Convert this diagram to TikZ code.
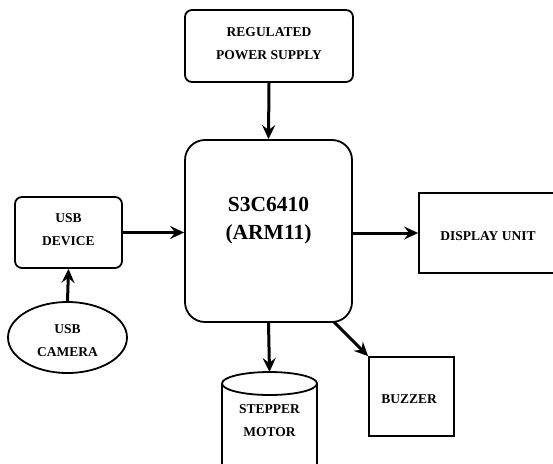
\documentclass[tikz,border=0pt]{standalone}
\usepackage{fontspec}
\setmainfont{Liberation Serif}
\usetikzlibrary{arrows.meta,shapes.geometric}
\begin{document}
\begin{tikzpicture}[x=1pt,y=-1pt,
  box/.style={draw, line width=1.8pt, inner sep=0pt},
  rbox/.style={box, rounded corners=7pt},
  lbl/.style={font=\fontsize{13.5}{23}\selectfont\bfseries, align=center, inner sep=0pt},
  conn/.style={line width=3pt, -{Stealth[length=14pt,width=13pt,inset=5pt]}}]
\useasboundingbox (0,0) rectangle (553,463);
% boxes
\node[rbox, minimum width=168pt, minimum height=72pt] (psu) at (269,46) {};
\node[lbl] at (269,44) {REGULATED\\POWER SUPPLY};
\node[box, rounded corners=20pt, minimum width=167pt, minimum height=182pt] (cpu) at (268.5,231) {};
\node[font=\fontsize{21.5}{28}\selectfont\bfseries, align=center] at (268.5,221) {S3C6410\\(ARM11)};
\node[rbox, minimum width=107pt, minimum height=71pt] (usb) at (68.5,232.5) {};
\node[lbl] at (68.5,230) {USB\\DEVICE};
\node[ellipse, box, minimum width=119pt, minimum height=71pt] (cam) at (67.5,337.5) {};
\node[lbl] at (67.5,341) {USB\\CAMERA};
\node[box, minimum width=140pt, minimum height=80pt] (disp) at (489,233) {};
\node[lbl] at (488,236) {DISPLAY UNIT};
\node[box, minimum width=85pt, minimum height=79pt] (buzz) at (411.5,396.5) {};
\node[lbl] at (409,399) {BUZZER};
% stepper motor cylinder
\coordinate (cyltop) at (269.5,372);
\draw[line width=1.8pt] (222,383.5) arc[start angle=180, end angle=540, x radius=47.5pt, y radius=11.5pt]
  (222,383.5) -- (222,480) (317,383.5) -- (317,480);
\node[lbl] (motor) at (269.5,421) {STEPPER\\MOTOR};
% connectors
\draw[conn] (psu.south) -- (cpu.north);
\draw[conn] (usb.east) -- (usb.east -| cpu.west);
\draw[conn] (cam.north) -- (usb.south);
\draw[conn] (cpu.east |- disp.west) -- (disp.west);
\draw[conn] (cpu.south) -- (cyltop);
\coordinate (cpubr) at (334,322);
\draw[conn] (cpubr) -- (buzz.north west);
\end{tikzpicture}
\end{document}
